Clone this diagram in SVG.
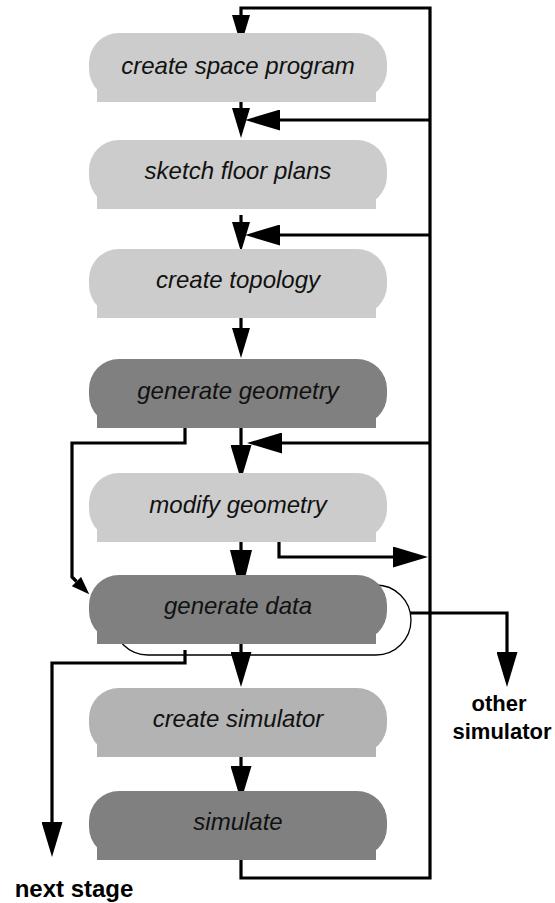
<svg xmlns="http://www.w3.org/2000/svg" xmlns:xlink="http://www.w3.org/1999/xlink" width="555" height="903" viewBox="0 0 555 903">
  <style>
    .light { fill: #cccccc; }
    .mid { fill: #b3b3b3; }
    .dark { fill: #808080; }
    .lbl { font-family: "Liberation Sans", Arial, Helvetica, sans-serif; font-style: italic; font-size: 24px; fill: #111111; text-anchor: middle; }
    .out { font-family: "Liberation Sans", Arial, Helvetica, sans-serif; font-weight: bold; font-size: 22px; fill: #000000; text-anchor: middle; }
    .big { font-size: 24px; }
    .wire { fill: none; stroke: #000000; stroke-width: 3.2; }
    .thin { fill: none; stroke: #000000; stroke-width: 1.3; }
  </style>
  <defs>
    <!-- process step: rounded top with a flat base strip -->
    <g id="step">
      <rect x="89" y="0" width="298" height="66" rx="30" ry="30"/>
      <rect x="97" y="40" width="279" height="29"/>
    </g>
    <!-- arrowheads; the line ends at the base, the head extends past it -->
    <marker id="hs" markerUnits="userSpaceOnUse" viewBox="0 0 30 18" refX="0" refY="9" markerWidth="30" markerHeight="18" orient="auto">
      <path d="M0,0 L30,9 L0,18 Z" fill="#000"/>
    </marker>
    <marker id="hm" markerUnits="userSpaceOnUse" viewBox="0 0 35 21" refX="0" refY="10.5" markerWidth="35" markerHeight="21" orient="auto">
      <path d="M0,0 L35,10.5 L0,21 Z" fill="#000"/>
    </marker>
    <marker id="hl" markerUnits="userSpaceOnUse" viewBox="0 0 44 22" refX="0" refY="11" markerWidth="44" markerHeight="22" orient="auto">
      <path d="M0,0 L44,11 L0,22 Z" fill="#000"/>
    </marker>
    <marker id="hd" markerUnits="userSpaceOnUse" viewBox="0 0 18 13" refX="0" refY="6.5" markerWidth="18" markerHeight="13" orient="auto">
      <path d="M0,0 L18,6.5 L0,13 Z" fill="#000"/>
    </marker>
  </defs>

  <g id="connectors">
    <!-- outer feedback loop from simulate back to the top -->
    <path class="wire" d="M241,858 V878 H430 V8 H241 V15" marker-end="url(#hs)"/>
    <path class="wire" d="M430,120 H280" marker-end="url(#hm)"/>
    <path class="wire" d="M430,235 H280" marker-end="url(#hm)"/>
    <path class="wire" d="M430,443 H282" marker-end="url(#hm)"/>
    <!-- main sequence -->
    <path class="wire" d="M241,102 V108" marker-end="url(#hs)"/>
    <path class="wire" d="M241,215 V222" marker-end="url(#hs)"/>
    <path class="wire" d="M241,309 V328" marker-end="url(#hs)"/>
    <path class="wire" d="M241,423 V445" marker-end="url(#hm)"/>
    <path class="wire" d="M241,537 V550" marker-end="url(#hl)"/>
    <path class="wire" d="M241,631 V652" marker-end="url(#hm)"/>
    <path class="wire" d="M241,744 V766" marker-end="url(#hm)"/>
    <!-- side branches -->
    <path class="wire" d="M279,537 V557 H393" marker-end="url(#hm)"/>
    <path class="wire" d="M185,423 V443 H72 V577 L76.5,581.5" marker-end="url(#hd)"/>
    <path class="wire" d="M410,613 H507 V652" marker-end="url(#hm)"/>
    <path class="wire" d="M185,650 V663 H52 V822" marker-end="url(#hm)"/>
  </g>

  <g id="create-space-program">
    <use xlink:href="#step" href="#step" y="33" class="light"/>
    <text class="lbl" x="238" y="74">create space program</text>
  </g>
  <g id="sketch-floor-plans">
    <use xlink:href="#step" href="#step" y="140" class="light"/>
    <text class="lbl" x="238" y="179">sketch floor plans</text>
  </g>
  <g id="create-topology">
    <use xlink:href="#step" href="#step" y="249" class="light"/>
    <text class="lbl" x="238" y="288">create topology</text>
  </g>
  <g id="generate-geometry">
    <use xlink:href="#step" href="#step" y="359" class="dark"/>
    <text class="lbl" x="238" y="399">generate geometry</text>
  </g>
  <g id="modify-geometry">
    <use xlink:href="#step" href="#step" y="473" class="light"/>
    <text class="lbl" x="238" y="513">modify geometry</text>
  </g>
  <g id="generate-data">
    <rect class="thin" x="113" y="585" width="298" height="70" rx="35" ry="35"/>
    <use xlink:href="#step" href="#step" y="575" class="dark"/>
    <text class="lbl" x="238" y="614">generate data</text>
  </g>
  <g id="create-simulator">
    <use xlink:href="#step" href="#step" y="688" class="mid"/>
    <text class="lbl" x="238" y="727">create simulator</text>
  </g>
  <g id="simulate">
    <use xlink:href="#step" href="#step" y="791" class="dark"/>
    <text class="lbl" x="238" y="830">simulate</text>
  </g>

  <g id="other-simulator">
    <text class="out" x="499" y="711">other</text>
    <text class="out" x="502" y="739">simulator</text>
  </g>
  <g id="next-stage">
    <text class="out big" x="74" y="897">next stage</text>
  </g>
</svg>
